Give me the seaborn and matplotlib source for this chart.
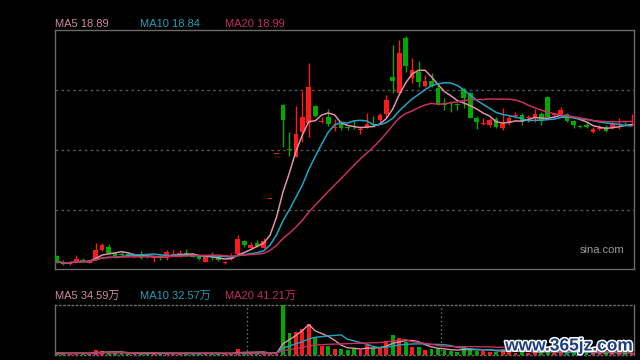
import numpy as np
import pandas as pd
import matplotlib
matplotlib.use("Agg")
import matplotlib.pyplot as plt
import matplotlib.patheffects as pe
import seaborn as sns

opens = [13.76,13.53,13.44,13.58,13.62,13.50,13.66,14.00,14.13,13.87,
         13.84,13.83,13.73,13.80,13.77,13.67,13.73,13.67,13.80,13.85,
         13.89,13.83,13.76,13.53,13.75,13.73,13.50,13.63,13.83,14.36,
         14.09,14.27,14.09,16.03,17.83,19.80,18.06,17.73,18.71,19.07,
         19.76,19.14,19.31,18.89,19.04,18.91,18.95,18.82,18.89,19.03,
         19.20,19.44,20.91,20.29,22.48,20.87,21.13,20.57,20.77,20.49,
         19.81,19.91,19.81,20.43,20.27,19.29,19.06,19.01,19.23,18.89,
         19.08,19.35,19.40,19.26,19.28,19.44,20.12,19.39,19.43,19.43,
         19.16,18.97,19.00,18.73,18.86,18.91,18.91,19.12,19.13,19.02]
highs = [13.80,13.62,13.58,13.80,13.70,13.62,14.29,14.29,14.26,13.94,
         13.96,13.88,13.90,13.96,13.82,13.78,13.80,14.00,14.00,14.00,
         14.04,13.87,13.80,13.80,13.93,13.84,13.56,13.89,14.60,14.40,
         14.33,14.40,14.47,16.03,17.83,19.84,18.71,19.77,20.36,21.49,
         19.80,19.31,19.64,19.24,19.09,18.97,19.20,18.96,19.47,19.36,
         19.49,20.20,22.20,22.40,22.56,21.67,21.57,21.00,21.09,20.67,
         20.09,19.97,19.89,20.47,20.33,19.36,19.27,19.28,19.32,19.69,
         19.36,19.53,19.48,19.40,19.63,19.52,20.13,19.49,19.71,19.48,
         19.20,19.00,19.13,18.93,19.00,18.99,19.13,19.27,19.17,19.44]
lows = [13.50,13.40,13.42,13.56,13.52,13.48,13.62,13.96,13.84,13.70,
        13.72,13.72,13.70,13.66,13.70,13.52,13.60,13.62,13.76,13.74,
        13.76,13.72,13.60,13.52,13.60,13.57,13.46,13.60,13.80,14.13,
        14.07,14.11,14.07,16.03,17.83,18.13,17.76,17.72,18.31,18.53,
        19.31,19.09,18.97,18.77,18.80,18.80,18.83,18.64,18.87,18.93,
        19.13,19.27,20.29,20.26,21.13,20.67,20.53,20.51,20.51,19.80,
        19.60,19.53,19.60,19.67,19.28,18.85,19.00,18.92,18.88,18.80,
        19.00,19.27,19.00,19.13,19.13,19.00,19.28,19.33,19.33,19.12,
        18.89,18.88,18.87,18.69,18.80,18.72,18.85,18.83,19.04,18.96]
closes = [13.53,13.44,13.49,13.66,13.56,13.58,14.00,14.20,13.89,13.76,
          13.82,13.76,13.80,13.69,13.73,13.73,13.67,13.93,13.86,13.87,
          13.80,13.74,13.63,13.73,13.72,13.60,13.51,13.73,14.44,14.20,
          14.20,14.16,14.37,16.03,17.83,19.20,18.02,18.64,19.31,20.52,
          19.36,19.17,19.04,18.93,18.89,18.89,18.93,18.84,19.04,19.01,
          19.40,20.00,20.76,21.89,21.36,21.20,20.73,20.77,20.56,19.83,
          19.79,19.89,19.80,20.09,19.29,19.13,19.07,19.21,18.93,19.04,
          19.28,19.36,19.15,19.27,19.44,19.17,19.31,19.40,19.60,19.17,
          19.02,18.91,18.93,18.84,18.87,18.77,19.04,19.13,19.11,19.04]
volumes = [28,21,21,28,21,21,70,56,35,28,
           22,22,22,28,20,22,20,28,22,20,
           26,20,22,28,20,20,20,22,84,35,
           28,28,35,12,14,700,312,326,360,430,
           256,130,130,84,91,70,98,75,145,102,
           102,196,280,238,186,116,116,70,80,94,
           70,56,46,116,94,56,56,46,42,84,
           50,35,50,35,42,42,70,35,42,42,
           35,28,35,35,28,35,35,35,28,35]

price_labels = ["MA5 18.89", "MA10 18.84", "MA20 18.99"]
volume_labels = ["MA5 34.59万", "MA10 32.57万", "MA20 41.21万"]
watermark = "www.365jz.com"
source = "sina.com"

RED = "#ff1a1a"
GREEN = "#00a800"
MA_COLORS = ["#e093a8", "#1fa6c6", "#c9305d"]
LABEL_COLORS = ["#d48a9c", "#1f9fbb", "#c32f5a"]

sns.set_style("dark")
plt.rcParams["font.family"] = ["Liberation Sans", "Noto Sans CJK SC", "DejaVu Sans"]

df = pd.DataFrame({"o": opens, "h": highs, "l": lows, "c": closes, "v": volumes})
df["i"] = np.arange(len(df))
df["up"] = df["c"] >= df["o"]
for n in (5, 10, 20):
    df[f"ma{n}"] = df["c"].rolling(n, min_periods=1).mean()
    df[f"vma{n}"] = df["v"].rolling(n, min_periods=1).mean()

fig = plt.figure(figsize=(6.4, 3.6), dpi=100, facecolor="black")
ax = fig.add_axes([55/640, 1-269/360, (634-55)/640, (269-30)/360])
axv = fig.add_axes([55/640, 1-355/360, (634-55)/640, (355-305)/360])

for a in (ax, axv):
    a.set_facecolor("black")
    a.set_xlim(-0.3, 89.35)
    a.tick_params(length=0, labelleft=False, labelbottom=False)
    for s in a.spines.values():
        s.set_color("#6a6a6a")
        s.set_linewidth(1)
        s.set_visible(True)

# main candles
ax.set_ylim(13.24, 22.8)
ax.set_yticks([15.6, 18.0, 20.4])
ax.set_xticks([])
ax.yaxis.grid(True, color="#555555", linestyle=(0, (2, 2.2)), linewidth=1)
ax.xaxis.grid(False)
colors = np.where(df["up"], RED, GREEN)
ax.vlines(df["i"], df["l"], df["h"], colors=colors, linewidth=1, zorder=2)
body_bottom = np.minimum(df["o"], df["c"])
body_h = np.maximum(np.abs(df["c"] - df["o"]), 0.04)
ax.bar(df["i"], body_h, bottom=body_bottom, width=0.72, color=colors,
       linewidth=0, zorder=3)
for n, col in zip((5, 10, 20), MA_COLORS):
    sns.lineplot(x=df["i"], y=df[f"ma{n}"], ax=ax, color=col, linewidth=1.1,
                 zorder=4)
ax.set_xlabel("")
ax.set_ylabel("")
ax.text(0.984, 0.08, source, transform=ax.transAxes, ha="right", va="center",
        color="#9a9a9a", fontsize=8)

# volume
axv.set_ylim(0, 700)
axv.set_yticks([])
axv.set_xticks([])
axv.grid(False)
axv.spines["top"].set_linestyle((0, (1, 2)))
axv.spines["bottom"].set_linestyle((0, (1, 2)))
axv.bar(df["i"], df["v"], width=0.6, color=colors, linewidth=0, zorder=2)
for n, col in zip((5, 10, 20), MA_COLORS):
    sns.lineplot(x=df["i"], y=df[f"vma{n}"], ax=axv, color=col, linewidth=1.0,
                 zorder=3)
for xs in (29.5, 59.5):
    axv.axvline(xs, color="#7a7a7a", linestyle=(0, (1, 2)), linewidth=1, zorder=1)
axv.set_xlabel("")
axv.set_ylabel("")

# labels
for txt, col, x in zip(price_labels, LABEL_COLORS, (55, 140, 225)):
    fig.text(x/640, 1-24/360, txt, color=col, fontsize=8, va="center", ha="left")
for txt, col, x in zip(volume_labels, LABEL_COLORS, (55, 140, 225)):
    fig.text(x/640, 1-295.5/360, txt, color=col, fontsize=8, va="center", ha="left")

fig.text(633/640, 1-346/360, watermark, color="#1d3f80", fontsize=12.5,
         fontweight="bold", family="Liberation Sans", ha="right", va="center",
         path_effects=[pe.withStroke(linewidth=2.2, foreground="white")], zorder=10)

fig.savefig("out.png", dpi=100, facecolor="black")
